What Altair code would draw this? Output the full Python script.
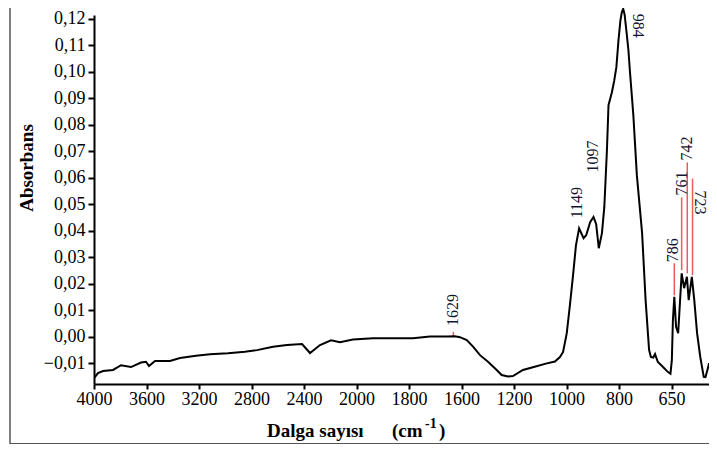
import altair as alt
import pandas as pd

# ---- spectrum (in the axis' own units) ----
wavenumber = [3995, 3970, 3931, 3855, 3794, 3718, 3642, 3604, 3581, 3535,
              3421, 3345, 3223, 3116, 2979, 2850, 2758, 2636, 2530, 2415,
              2354, 2278, 2194, 2126, 2027, 1937, 1785, 1720, 1656, 1625,
              1606, 1560, 1512, 1459, 1398, 1332, 1294, 1246, 1208, 1166,
              1128, 1075, 1044, 1025, 1013, 999, 987, 975, 964, 952,
              935, 925, 910, 897, 887, 877, 865, 856, 846, 840,
              827, 818, 810, 802, 796, 792, 788, 784, 778, 773,
              769, 759, 749, 734, 724, 714, 709, 702, 697, 689,
              677, 660, 653, 649, 646, 642, 637, 631, 626, 621,
              614, 606, 601, 592, 585, 577, 568, 558, 553, 546, 543]
absorbance = [-0.0154, -0.0138, -0.0130, -0.0126, -0.0108, -0.0115, -0.0098, -0.0095, -0.0111, -0.0092,
              -0.0092, -0.0081, -0.0072, -0.0067, -0.0063, -0.0057, -0.0051, -0.0038, -0.0032, -0.0028,
              -0.0062, -0.0032, -0.0014, -0.0021, -0.0011, -0.0006, -0.0006, 0.0000, 0.0000, 0.0001,
              -0.0002, -0.0013, -0.0038, -0.0070, -0.0095, -0.0126, -0.0145, -0.0151, -0.0149, -0.0126,
              -0.0116, -0.0101, -0.0094, -0.0077, -0.0058, 0.0013, 0.0119, 0.0232, 0.0345, 0.0409,
              0.0372, 0.0383, 0.0432, 0.0452, 0.0425, 0.0334, 0.0391, 0.0489, 0.0704, 0.0874,
              0.0923, 0.0968, 0.1018, 0.1119, 0.1194, 0.1225, 0.1238, 0.1217, 0.1145, 0.1081,
              0.1006, 0.0836, 0.0610, 0.0391, 0.0138, -0.0051, -0.0077, -0.0079, -0.0066, -0.0096,
              -0.0111, -0.0134, -0.0140, -0.0089, 0.0062, 0.0150, 0.0037, 0.0013, 0.0126, 0.0239,
              0.0183, 0.0226, 0.0138, 0.0226, 0.0138, 0.0013, -0.0076, -0.0152, -0.0153, -0.0119, -0.0100]

# ---- peak annotations ----
peak_labels = ["1629", "1149", "1097", "984", "786", "761", "742", "723"]
label_x = [1631, 961, 899, 746, 645, 621, 605, 569]
label_y = [0.0040, 0.0447, 0.0620, 0.1220, 0.0281, 0.0533, 0.0665, 0.0552]
label_down = [False, False, False, True, False, False, False, True]

marker_x = [1631, 642, 621, 605, 590]
marker_y1 = [0.0000, 0.0156, 0.0251, 0.0239, 0.0232]
marker_y2 = [0.0018, 0.0277, 0.0526, 0.0658, 0.0597]

# ---- axes ----
x_domain = [4000, 3600, 3200, 2800, 2400, 2000, 1800, 1600, 1200, 1000, 800, 650, 543]
x_ticks = [4000, 3600, 3200, 2800, 2400, 2000, 1800, 1600, 1200, 1000, 800, 650]
y_ticks = [-0.01, 0.0, 0.01, 0.02, 0.03, 0.04, 0.05, 0.06, 0.07, 0.08, 0.09, 0.10, 0.11, 0.12]

W, H = 615, 369
STEP = 52.5
x_range = [i * STEP for i in range(len(x_domain) - 1)] + [W]

FONT = "Liberation Serif"

xscale = alt.Scale(domain=x_domain, range=x_range, nice=False, zero=False)
yscale = alt.Scale(domain=[-0.0179, 0.1215], nice=False, zero=False)

xaxis = alt.Axis(values=x_ticks, format="d", title=None, grid=False,
                 labelFont=FONT, labelFontSize=18, labelColor="black",
                 domainColor="black", domainWidth=2, tickColor="black",
                 tickWidth=2, tickSize=5, labelPadding=1, labelOverlap=False,
                 labelFlush=False)
yaxis = alt.Axis(values=y_ticks, title=None, grid=False,
                 labelExpr="replace(format(datum.value, '.2f'), '.', ',')",
                 labelFont=FONT, labelFontSize=18, labelColor="black",
                 domainColor="black", domainWidth=2, tickColor="black",
                 tickWidth=2, tickSize=6, labelPadding=3, labelOverlap=False)

X = lambda f: alt.X(f, type="quantitative", scale=xscale, axis=xaxis)
Y = lambda f: alt.Y(f, type="quantitative", scale=yscale, axis=yaxis)

spec_df = pd.DataFrame({"wn": wavenumber, "a": absorbance,
                        "i": list(range(len(wavenumber)))})
lab_df = pd.DataFrame({"wn": label_x, "a": label_y, "t": peak_labels, "down": label_down})
mk_df = pd.DataFrame({"wn": marker_x, "a": marker_y1, "a2": marker_y2})

spectrum = alt.Chart(spec_df).mark_line(color="black", strokeWidth=2, clip=False).encode(
    x=X("wn"), y=Y("a"), order="i:Q")

markers = alt.Chart(mk_df).mark_rule(color="#ee5a5a", strokeWidth=1.5).encode(
    x=X("wn"), y=Y("a"), y2="a2:Q")

labels_up = alt.Chart(lab_df).transform_filter("!datum.down").mark_text(
    angle=270, align="left", baseline="middle", font=FONT, fontSize=16,
    color="#141430").encode(x=X("wn"), y=Y("a"), text="t:N")
labels_down = alt.Chart(lab_df).transform_filter("datum.down").mark_text(
    angle=90, align="left", baseline="middle", font=FONT, fontSize=16,
    color="#141430").encode(x=X("wn"), y=Y("a"), text="t:N")

one = pd.DataFrame({"k": [0]})


def txt(text, x, y, size, **kw):
    return alt.Chart(one).mark_text(text=text, font=FONT, fontSize=size,
                                    fontWeight="bold", color="black", **kw).encode(
        x=alt.value(x), y=alt.value(y))


ytitle = txt("Absorbans", -67, 153, 19, angle=270, align="center", baseline="middle")
xt1 = txt("Dalga sayısı", 173, 422, 19, align="left", baseline="alphabetic")
xt2 = txt("(cm", 298, 422, 19, align="left", baseline="alphabetic")
xt3 = txt("-1", 331, 413, 14, align="left", baseline="alphabetic")
xt4 = txt(")", 345, 422, 19, align="left", baseline="alphabetic")

frame_left = alt.Chart(one).mark_rule(color="#555555", strokeWidth=1.5).encode(
    x=alt.value(-84), y=alt.value(-7), y2=alt.value(430))
frame_bottom = alt.Chart(one).mark_rule(color="#555555", strokeWidth=2).encode(
    x=alt.value(-84), x2=alt.value(640), y=alt.value(429))

chart = alt.layer(
    frame_left, frame_bottom, markers, spectrum, labels_up, labels_down,
    ytitle, xt1, xt2, xt3, xt4
).properties(
    width=W, height=H,
    autosize=alt.AutoSizeParams(type="none"),
    padding={"left": 86, "top": 7, "right": 0, "bottom": 60},
    background="white",
).configure_view(stroke=None)

chart.save("out.html", embed_options={"renderer": "svg", "actions": False})
